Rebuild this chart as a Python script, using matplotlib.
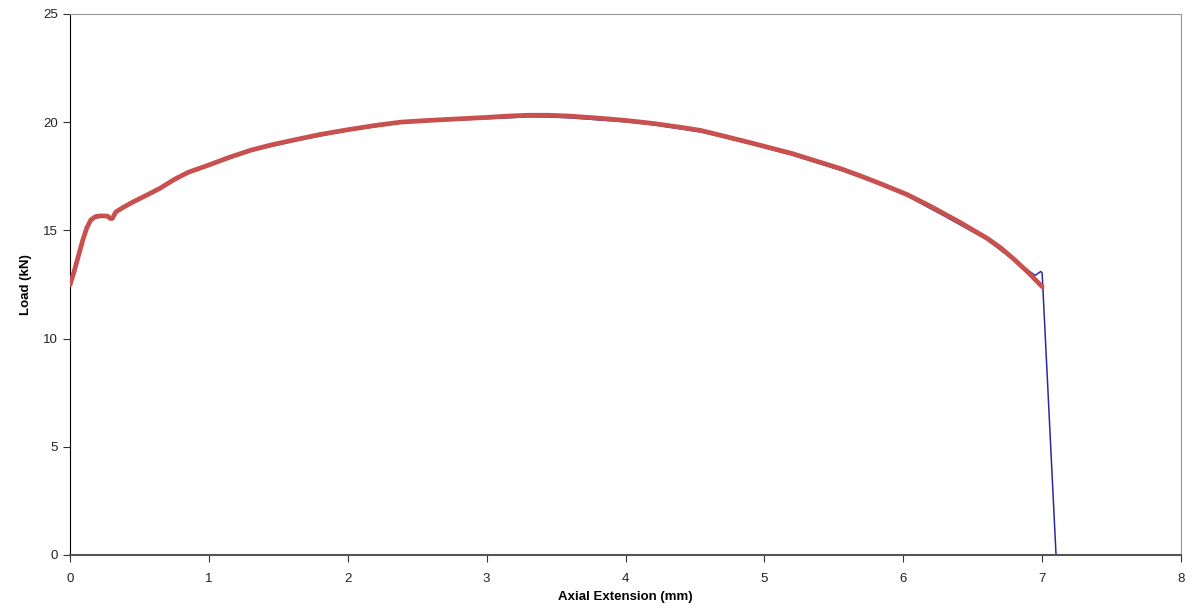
import matplotlib.pyplot as plt

plt.rcParams['font.family'] = ['Liberation Sans', 'DejaVu Sans']

# fitted curve (red)
fit_ext = [0, 0.03, 0.06, 0.09, 0.12, 0.15, 0.18, 0.22, 0.27, 0.29, 0.305,
           0.33, 0.38, 0.45, 0.55, 0.65, 0.75, 0.85, 1.0, 1.15, 1.3, 1.45,
           1.63, 1.8, 2.0, 2.2, 2.38, 2.55, 2.7, 2.85, 3.0, 3.15, 3.3, 3.45,
           3.6, 3.82, 4.0, 4.2, 4.4, 4.54, 4.7, 4.9, 5.05, 5.2, 5.4, 5.55,
           5.7, 5.85, 6.03, 6.2, 6.4, 6.6, 6.7, 6.8, 6.9, 7.0]
fit_load = [12.48, 13.1, 13.8, 14.5, 15.1, 15.48, 15.62, 15.67, 15.66, 15.55,
            15.55, 15.85, 16.05, 16.3, 16.62, 16.95, 17.35, 17.68, 18.02,
            18.38, 18.7, 18.95, 19.2, 19.43, 19.65, 19.85, 20.0, 20.07, 20.12,
            20.17, 20.22, 20.28, 20.32, 20.32, 20.28, 20.18, 20.08, 19.94,
            19.76, 19.62, 19.37, 19.05, 18.8, 18.55, 18.15, 17.85, 17.5,
            17.12, 16.65, 16.1, 15.4, 14.65, 14.2, 13.65, 13.05, 12.4]

# raw test data (blue)
raw_ext = [0, 0.06, 0.12, 0.15, 0.19, 0.21, 0.25, 0.276, 0.293, 0.33, 0.45,
           0.65, 0.85, 1.0, 1.3, 1.63, 2.0, 2.38, 2.7, 3.0, 3.15, 3.3, 3.45,
           3.6, 3.82, 4.0, 4.2, 4.54, 4.7, 4.9, 5.2, 5.4, 5.55, 5.8, 6.03,
           6.3, 6.6, 6.8, 6.95, 6.99, 7.0, 7.1]
raw_load = [12.48, 13.8, 15.1, 15.5, 15.72, 15.64, 15.7, 15.65, 15.52, 15.84,
            16.27, 16.92, 17.64, 17.98, 18.66, 19.15, 19.61, 19.96, 20.08,
            20.16, 20.2, 20.25, 20.24, 20.2, 20.1, 20.02, 19.88, 19.55, 19.31,
            18.99, 18.48, 18.08, 17.78, 17.2, 16.58, 15.65, 14.58, 13.6, 12.92,
            13.1, 13.03, 0.0]

fig = plt.figure(figsize=(11.92, 6.15), dpi=100)
ax = fig.add_axes([0.0587, 0.0976, 0.9321, 0.8797])

ax.plot(raw_ext, raw_load, color='#2B2B9B', lw=1.1, zorder=2)
ax.plot(fit_ext, fit_load, color='#C8504E', lw=3.4, zorder=3,
        solid_capstyle='round', solid_joinstyle='round')

ax.set_xlim(0, 8)
ax.set_ylim(0, 25)
ax.set_xticks(range(0, 9))
ax.set_yticks(range(0, 26, 5))

ax.spines['left'].set_color('black')
ax.spines['bottom'].set_color('#555555')
ax.spines['bottom'].set_linewidth(1.5)
ax.spines['top'].set_color('#999999')
ax.spines['right'].set_color('#999999')
ax.spines['top'].set_linewidth(0.8)
ax.spines['right'].set_linewidth(0.8)

ax.tick_params(axis='both', direction='out', length=5, labelsize=9.5,
               colors='#333333', labelcolor='#222222')
ax.tick_params(axis='x', pad=8)

ax.set_xlabel('Axial Extension (mm)', fontsize=9.5, fontweight='bold',
              labelpad=4)
ax.set_ylabel('Load (kN)', fontsize=9.5, fontweight='bold', labelpad=8)

fig.savefig('out.png', dpi=100)
